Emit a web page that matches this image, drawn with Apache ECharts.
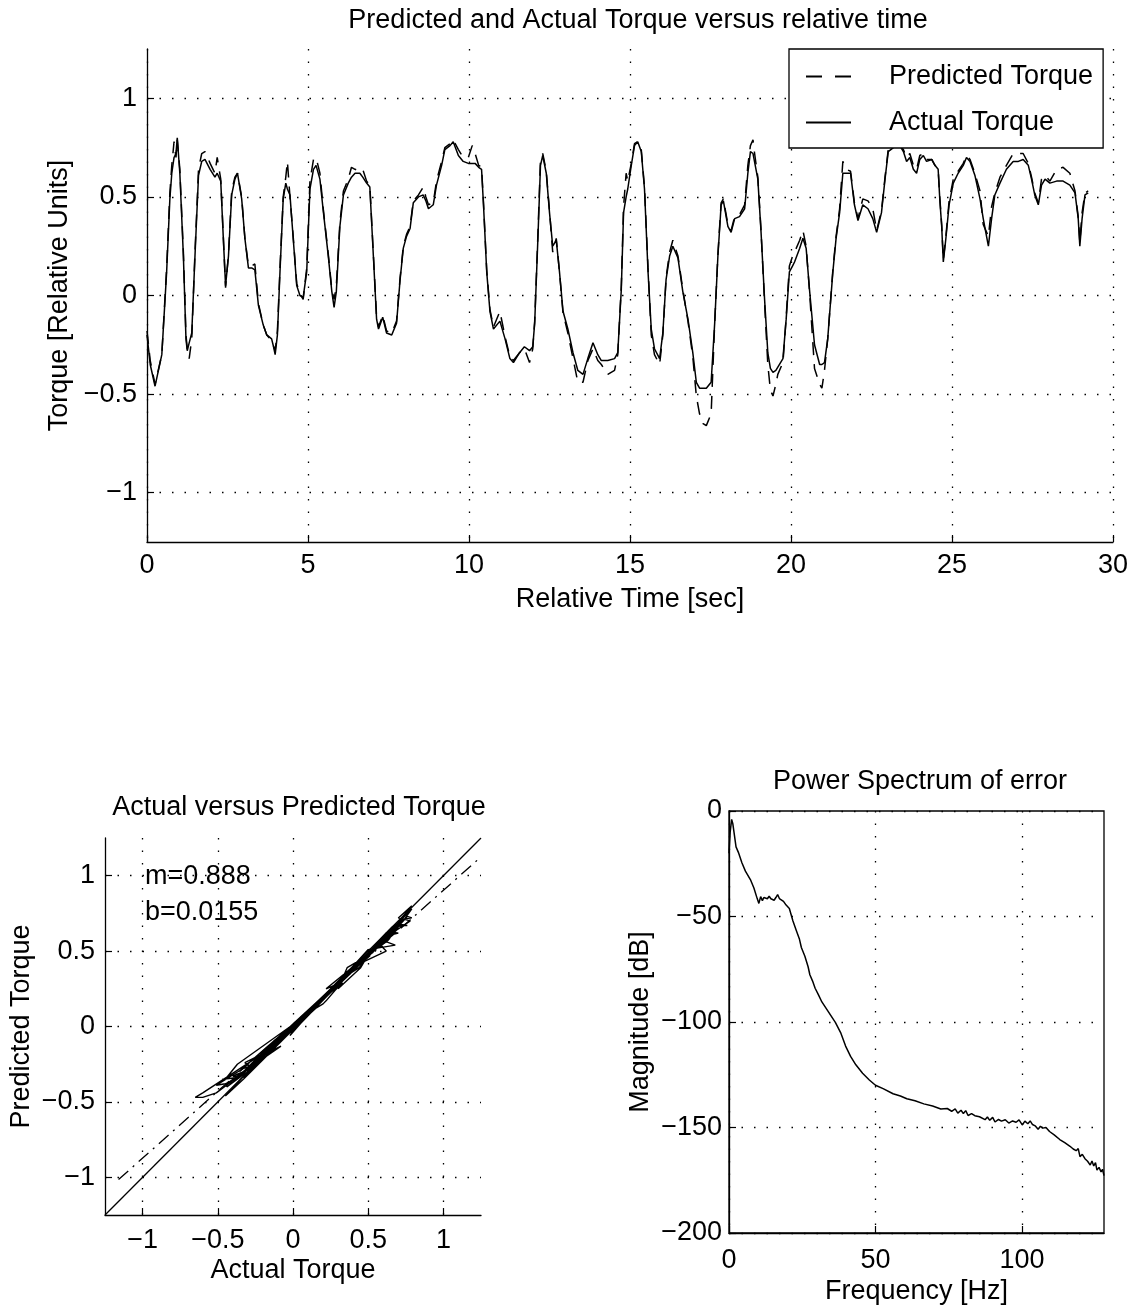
<!DOCTYPE html>
<html><head><meta charset="utf-8">
<script src="https://cdn.jsdelivr.net/npm/echarts@6/dist/echarts.min.js"></script>
<style>html,body{margin:0;padding:0;background:#fff}#c{width:1137px;height:1315px}</style>
</head><body><div id="c"></div>
<script>
// ---- Data ----
const timeSec = [
0.00,0.10,0.25,0.46,0.61,0.71,0.77,0.84,0.90,0.94,
1.02,1.13,1.21,1.25,1.31,1.39,1.49,1.60,1.70,1.80,
1.96,2.11,2.18,2.22,2.29,2.37,2.44,2.53,2.63,2.73,
2.81,2.94,3.04,3.15,3.25,3.35,3.46,3.61,3.72,3.87,
3.93,3.98,4.05,4.13,4.23,4.31,4.36,4.44,4.54,4.65,
4.75,4.85,4.96,5.06,5.17,5.25,5.37,5.48,5.63,5.74,
5.81,5.88,5.99,6.10,6.25,6.35,6.46,6.61,6.70,6.82,
6.92,7.03,7.13,7.19,7.32,7.44,7.60,7.75,7.86,7.96,
8.06,8.17,8.27,8.43,8.58,8.66,8.74,8.89,8.99,9.15,
9.25,9.41,9.51,9.67,9.82,9.98,10.10,10.19,10.30,10.39,
10.45,10.55,10.65,10.76,10.96,11.12,11.27,11.38,11.57,11.72,
11.88,11.98,12.04,12.14,12.22,12.29,12.40,12.50,12.60,12.71,
12.81,12.92,13.07,13.23,13.38,13.54,13.69,13.85,14.00,14.11,
14.31,14.52,14.62,14.73,14.80,14.88,14.93,15.04,15.14,15.24,
15.35,15.45,15.56,15.66,15.76,15.92,16.02,16.12,16.23,16.33,
16.49,16.64,16.80,16.95,17.06,17.16,17.27,17.37,17.52,17.63,
17.73,17.83,17.90,18.04,18.14,18.25,18.40,18.56,18.66,18.74,
18.82,18.87,18.97,19.07,19.18,19.28,19.36,19.44,19.53,19.59,
19.75,19.85,19.95,20.05,20.11,20.27,20.37,20.47,20.58,20.73,
20.89,20.96,21.04,21.14,21.30,21.40,21.51,21.61,21.71,21.85,
21.97,22.08,22.23,22.39,22.54,22.66,22.81,22.92,23.02,23.18,
23.38,23.49,23.59,23.69,23.80,23.90,24.00,24.11,24.21,24.37,
24.47,24.57,24.62,24.68,24.73,24.81,24.91,25.04,25.19,25.35,
25.45,25.56,25.71,25.87,25.97,26.13,26.23,26.33,26.49,26.69,
26.90,27.06,27.21,27.37,27.47,27.57,27.68,27.78,27.89,28.04,
28.25,28.45,28.66,28.82,28.92,28.97,29.04,29.13,29.23
];
const actualTorque = [
-0.20,-0.35,-0.46,-0.30,0.12,0.49,0.62,0.70,0.72,0.80,
0.62,0.20,-0.22,-0.28,-0.24,-0.19,0.20,0.61,0.68,0.69,
0.64,0.60,0.62,0.62,0.58,0.29,0.05,0.20,0.51,0.59,
0.62,0.49,0.29,0.14,0.14,0.13,-0.05,-0.15,-0.20,-0.22,
-0.26,-0.30,-0.20,0.12,0.49,0.57,0.54,0.51,0.29,0.05,
0.00,-0.01,0.12,0.54,0.64,0.66,0.59,0.42,0.20,0.02,
-0.06,0.02,0.35,0.51,0.57,0.60,0.62,0.62,0.60,0.57,
0.55,0.20,-0.12,-0.17,-0.11,-0.19,-0.20,-0.14,0.08,0.24,
0.30,0.34,0.47,0.50,0.51,0.48,0.44,0.46,0.56,0.66,
0.74,0.76,0.78,0.71,0.68,0.67,0.67,0.67,0.65,0.64,
0.46,0.12,-0.08,-0.17,-0.13,-0.22,-0.32,-0.34,-0.29,-0.26,
-0.28,-0.26,-0.14,0.29,0.66,0.71,0.62,0.42,0.25,0.28,
0.12,-0.08,-0.17,-0.29,-0.38,-0.40,-0.32,-0.24,-0.30,-0.33,
-0.33,-0.32,-0.29,0.03,0.42,0.50,0.54,0.66,0.76,0.78,
0.73,0.54,0.12,-0.17,-0.27,-0.32,-0.19,0.08,0.20,0.25,
0.19,0.02,-0.12,-0.29,-0.44,-0.47,-0.47,-0.47,-0.44,-0.14,
0.20,0.46,0.48,0.35,0.32,0.39,0.40,0.44,0.62,0.73,
0.72,0.71,0.59,0.32,-0.02,-0.29,-0.37,-0.39,-0.38,-0.37,
-0.32,-0.12,0.12,0.15,0.17,0.24,0.29,0.24,0.02,-0.25,
-0.35,-0.35,-0.34,-0.22,0.12,0.29,0.42,0.62,0.62,0.62,
0.46,0.38,0.46,0.44,0.39,0.32,0.42,0.59,0.73,0.75,
0.76,0.73,0.68,0.70,0.64,0.62,0.69,0.71,0.68,0.69,
0.66,0.64,0.49,0.35,0.17,0.29,0.46,0.57,0.62,0.66,
0.70,0.68,0.61,0.49,0.39,0.25,0.39,0.51,0.57,0.64,
0.68,0.68,0.69,0.66,0.59,0.51,0.46,0.56,0.59,0.57,
0.58,0.58,0.56,0.52,0.39,0.25,0.39,0.51,0.52
];
const predictedTorque = [
-0.18,-0.33,-0.45,-0.30,0.14,0.52,0.66,0.78,0.70,0.79,
0.64,0.22,-0.20,-0.27,-0.32,-0.22,0.22,0.64,0.72,0.73,
0.67,0.62,0.70,0.66,0.59,0.30,0.04,0.21,0.53,0.60,
0.62,0.50,0.29,0.15,0.15,0.16,-0.04,-0.15,-0.20,-0.23,
-0.24,-0.28,-0.18,0.14,0.50,0.60,0.68,0.50,0.30,0.06,
0.01,-0.02,0.14,0.58,0.69,0.70,0.62,0.43,0.21,0.03,
-0.02,0.05,0.37,0.53,0.59,0.65,0.64,0.63,0.64,0.58,
0.56,0.21,-0.11,-0.16,-0.10,-0.18,-0.19,-0.13,0.09,0.25,
0.31,0.35,0.48,0.51,0.55,0.50,0.46,0.47,0.58,0.68,
0.75,0.77,0.79,0.74,0.70,0.70,0.76,0.72,0.66,0.65,
0.47,0.13,-0.07,-0.16,-0.08,-0.21,-0.31,-0.33,-0.29,-0.27,
-0.34,-0.27,-0.13,0.31,0.69,0.72,0.63,0.43,0.22,0.29,
0.12,-0.09,-0.19,-0.32,-0.44,-0.44,-0.33,-0.27,-0.33,-0.35,
-0.40,-0.38,-0.30,0.05,0.45,0.62,0.58,0.67,0.77,0.78,
0.74,0.55,0.14,-0.20,-0.30,-0.35,-0.20,0.09,0.22,0.28,
0.20,0.03,-0.13,-0.31,-0.51,-0.60,-0.65,-0.66,-0.60,-0.14,
0.21,0.47,0.49,0.36,0.33,0.40,0.41,0.46,0.66,0.76,
0.79,0.72,0.60,0.33,-0.04,-0.35,-0.48,-0.51,-0.45,-0.40,
-0.34,-0.11,0.15,0.20,0.22,0.28,0.33,0.25,0.01,-0.37,
-0.45,-0.47,-0.38,-0.22,0.13,0.30,0.44,0.68,0.64,0.63,
0.47,0.39,0.49,0.48,0.44,0.33,0.43,0.60,0.74,0.76,
0.76,0.74,0.70,0.72,0.66,0.64,0.71,0.72,0.69,0.69,
0.66,0.64,0.50,0.36,0.18,0.30,0.48,0.59,0.63,0.67,
0.71,0.69,0.62,0.53,0.36,0.30,0.45,0.52,0.60,0.66,
0.72,0.72,0.72,0.67,0.60,0.52,0.47,0.59,0.61,0.58,
0.64,0.65,0.62,0.53,0.40,0.27,0.42,0.52,0.53
];
const torqueTicks = [-1, -0.5, 0, 0.5, 1];
const timeTicksInterval = 5;
const fitSlope = 0.888, fitIntercept = 0.0155;
const fitLineX = [-1.16, 1.25];
const fitLineY = [-1.015, 1.125];
const identityLine = [-1.25, 1.25];

const freqHz = [
0,0.4,0.9,1.3,2.4,3.2,4.4,5.6,7.3,8.5,
9.6,10.2,10.8,11.4,11.9,12.5,13.1,13.7,14.3,14.9,
15.4,16.0,16.6,17.2,17.7,18.6,19.5,20.6,21.8,23.0,
24.0,24.7,25.9,27.0,27.6,28.5,29.4,30.5,31.7,34.0,
36.3,38.1,39.8,41.5,43.3,45.6,47.9,50.0,52.6,56.0,
58.5,60.7,63.5,66.5,69.5,72.3,74.5,76.0,77.2,78.1,
79.2,80.0,80.8,81.6,82.8,83.9,85.5,87.4,88.2,89.0,
90.0,90.8,92.0,93.0,94.3,95.5,96.8,98.0,99.0,100.1,
101.0,102.0,102.8,103.6,104.5,105.5,106.3,107.1,108.2,109.4,
111.0,112.9,114.6,116.4,117.5,118.5,119.2,119.8,120.6,121.5,
122.4,123.3,123.9,124.5,125.1,125.6,126.3,127.0,127.5,128.0
];
const magnitudeDb = [
-20,-10,-4,-6,-17,-19.6,-24.5,-28.5,-32.5,-36.5,
-41.4,-43.8,-40.6,-42.5,-41.0,-40.2,-41.6,-40.4,-41.6,-40.8,
-42.3,-41.0,-39.6,-41.5,-42.2,-42.8,-44.6,-46.2,-52,-56.7,
-60.5,-64.7,-68.8,-73.8,-77.6,-80.5,-84,-87.0,-90.5,-95.3,
-100.2,-105,-111.4,-116.3,-120.3,-124.3,-127.5,-130,-131.6,-134,
-135.1,-136.4,-137.3,-138.8,-139.8,-141.2,-141.0,-142.3,-141.2,-143.2,
-141.8,-143.4,-142.0,-144.3,-143.4,-144.4,-144.9,-146.3,-145.0,-146.6,
-145.2,-147.4,-146.2,-147.0,-146.3,-147.9,-146.9,-147.5,-146.4,-148.8,
-147.0,-148.2,-146.9,-148.6,-149.2,-150.8,-149.4,-150.3,-150.0,-151.9,
-153.5,-155.7,-157.2,-158.9,-160.2,-161.0,-160.0,-163.8,-162.7,-164.8,
-166.0,-167.8,-165.9,-168.2,-166.7,-170.2,-168.9,-171.0,-169.8,-172.8
];
const freqTicks = [0, 50, 100];

// ---- Chart ----
const FF = '"Liberation Sans", Arial, Helvetica, sans-serif';
const FS = 27;
const fmt = v => (v < 0 ? '\u2212' + String(-v) : String(v));
const dots = {show: true, lineStyle: {color: '#000', width: 1.3, type: [1.5, 11]}};
function axis(extra, ticks, labelMargin) {
  const a = {
    type: 'value',
    axisLine: {show: true, onZero: false, lineStyle: {color: '#000', width: 1.3}},
    axisTick: {show: true, inside: true, length: 7, lineStyle: {color: '#000', width: 1.2}},
    axisLabel: {color: '#000', fontSize: FS, fontFamily: FF, margin: labelMargin, formatter: fmt},
    splitLine: dots,
    nameLocation: 'middle',
    nameTextStyle: {color: '#000', fontSize: FS, fontFamily: FF}
  };
  if (ticks) { a.axisTick.customValues = ticks; a.axisLabel.customValues = ticks; }
  return Object.assign(a, extra);
}
const black = '#000';
const chart = echarts.init(document.getElementById('c'), null, {renderer: 'canvas'});
chart.setOption({
  animation: false,
  backgroundColor: '#fff',
  textStyle: {fontFamily: FF, color: black},
  grid: [
    {left: 147, top: 49, width: 966, height: 493},
    {left: 105, top: 838, width: 376, height: 377},
    {left: 729, top: 811, width: 375, height: 422, show: true, borderColor: black, borderWidth: 1.3, backgroundColor: 'transparent'}
  ],
  xAxis: [
    axis({gridIndex: 0, min: 0, max: 30, interval: timeTicksInterval, name: 'Relative Time [sec]', nameGap: 44}, null, 10),
    axis({gridIndex: 1, min: -1.25, max: 1.25, name: 'Actual Torque', nameGap: 42}, torqueTicks, 12),
    axis({gridIndex: 2, min: 0, max: 128, name: 'Frequency [Hz]', nameGap: 45}, freqTicks, 14)
  ],
  yAxis: [
    axis({gridIndex: 0, min: -1.25, max: 1.25, name: 'Torque [Relative Units]', nameGap: 67}, torqueTicks, 10),
    axis({gridIndex: 1, min: -1.25, max: 1.25, name: 'Predicted Torque', nameGap: 70}, torqueTicks, 10),
    axis({gridIndex: 2, min: -200, max: 0, interval: 50, name: 'Magnitude [dB]', nameGap: 75}, null, 7)
  ],
  legend: {
    left: 789, top: 49, orient: 'vertical',
    data: [
      {name: 'Predicted Torque', lineStyle: {type: [16, 13]}},
      {name: 'Actual Torque'}
    ],
    itemWidth: 45, itemHeight: 14, itemGap: 19,
    padding: [14, 10, 12, 16],
    backgroundColor: '#fff', borderColor: black, borderWidth: 1.3, borderRadius: 0,
    itemStyle: {color: 'transparent', borderColor: 'transparent', borderWidth: 0, opacity: 0},
    textStyle: {color: black, fontSize: FS, fontFamily: FF, lineHeight: 27, padding: [0, 0, 0, 33]}
  },
  graphic: [
    {type: 'text', x: 638, y: 21, style: {text: 'Predicted and Actual Torque versus relative time', font: FS + 'px ' + FF, fill: black, textAlign: 'center', textVerticalAlign: 'middle'}},
    {type: 'text', x: 299, y: 808, style: {text: 'Actual versus Predicted Torque', font: FS + 'px ' + FF, fill: black, textAlign: 'center', textVerticalAlign: 'middle'}},
    {type: 'text', x: 920, y: 782, style: {text: 'Power Spectrum of error', font: FS + 'px ' + FF, fill: black, textAlign: 'center', textVerticalAlign: 'middle'}},
    {type: 'text', x: 145, y: 877, style: {text: 'm=' + fitSlope, font: FS + 'px ' + FF, fill: black, textAlign: 'left', textVerticalAlign: 'middle'}},
    {type: 'text', x: 145, y: 913, style: {text: 'b=' + fitIntercept, font: FS + 'px ' + FF, fill: black, textAlign: 'left', textVerticalAlign: 'middle'}}
  ],
  series: [
    {name: 'Predicted Torque', type: 'line', xAxisIndex: 0, yAxisIndex: 0, symbol: 'none', z: 3,
     lineStyle: {color: black, width: 1.5, type: [13, 9]}, itemStyle: {color: black},
     data: timeSec.map((t, i) => [t, predictedTorque[i]])},
    {name: 'Actual Torque', type: 'line', xAxisIndex: 0, yAxisIndex: 0, symbol: 'none', z: 3,
     lineStyle: {color: black, width: 1.5}, itemStyle: {color: black},
     data: timeSec.map((t, i) => [t, actualTorque[i]])},
    // the reference scatter cloud spans the predicted range horizontally and the actual range vertically
    {name: 'scatter', type: 'line', xAxisIndex: 1, yAxisIndex: 1, symbol: 'none', z: 3,
     lineStyle: {color: black, width: 1.4},
     data: predictedTorque.map((p, i) => [p, actualTorque[i]])},
    {name: 'identity', type: 'line', xAxisIndex: 1, yAxisIndex: 1, symbol: 'none', z: 3,
     lineStyle: {color: black, width: 1.3},
     data: identityLine.map(v => [v, v])},
    {name: 'fit', type: 'line', xAxisIndex: 1, yAxisIndex: 1, symbol: 'none', z: 3,
     lineStyle: {color: black, width: 1.3, type: [13, 6, 2, 6]},
     data: fitLineX.map((v, i) => [v, fitLineY[i]])},
    {name: 'spectrum', type: 'line', xAxisIndex: 2, yAxisIndex: 2, symbol: 'none', z: 3,
     lineStyle: {color: black, width: 1.5},
     data: freqHz.map((f, i) => [f, magnitudeDb[i]])}
  ]
});
</script>
</body></html>
